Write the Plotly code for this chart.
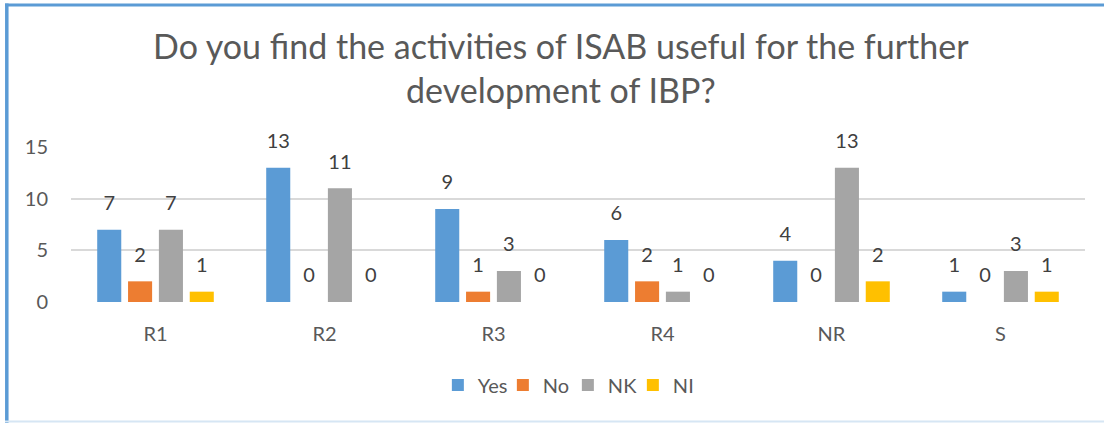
import plotly.graph_objects as go

categories = ["R1", "R2", "R3", "R4", "NR", "S"]
series_names = ["Yes", "No", "NK", "NI"]
yes_vals = [7, 13, 9, 6, 4, 1]
no_vals = [2, 0, 1, 2, 0, 0]
nk_vals = [7, 11, 3, 1, 13, 3]
ni_vals = [1, 0, 0, 0, 2, 1]
colors = ["#5B9BD5", "#ED7D31", "#A5A5A5", "#FFC000"]
y_ticks = [0, 5, 10, 15]

title_text = "Do you find the activities of ISAB useful for the further<br>development of IBP?"

FONT = "Lato"
all_vals = [yes_vals, no_vals, nk_vals, ni_vals]

fig = go.Figure()
for name, vals, col in zip(series_names, all_vals, colors):
    fig.add_trace(go.Bar(
        x=categories, y=vals, name=name, offsetgroup=name,
        marker=dict(color=col, line=dict(width=0)),
        hoverinfo="x+y+name",
    ))
for name, vals, col in zip(series_names, all_vals, colors):
    fig.add_trace(go.Scatter(
        x=categories, y=vals, offsetgroup=name, mode="markers+text",
        text=[str(v) for v in vals], textposition="top center",
        textfont=dict(family=FONT, size=20, color="#404040"),
        marker=dict(size=22, opacity=0, color=col),
        showlegend=False, hoverinfo="skip", cliponaxis=False,
    ))

fig.update_layout(
    width=1104, height=423,
    paper_bgcolor="white", plot_bgcolor="white",
    margin=dict(l=71, r=19, t=147, b=121),
    barmode="group", bargap=0.27, bargroupgap=0.22,
    scattermode="group", scattergap=0.27,
    font=dict(family=FONT, color="#595959", size=20),
    title=dict(
        text=title_text, x=0.508, xanchor="center", xref="container",
        y=1 - 59 / 423, yanchor="top", yref="container",
        font=dict(family=FONT, size=34, color="#595959"),
    ),
    xaxis=dict(
        type="category", showgrid=False, zeroline=False, showline=False,
        ticks="", ticklabelstandoff=18,
        tickfont=dict(family=FONT, size=20, color="#595959"),
    ),
    yaxis=dict(
        range=[0, 15], tickvals=y_ticks, showgrid=True, gridcolor="#D9D9D9",
        gridwidth=1.5, zeroline=False, showline=False, ticks="",
        ticklabelstandoff=22,
        tickfont=dict(family=FONT, size=20, color="#595959"),
    ),
    legend=dict(
        orientation="h", x=0.49, xanchor="center", y=-0.535, yanchor="middle",
        font=dict(family=FONT, size=20, color="#595959"),
        itemwidth=30, traceorder="normal",
        entrywidth=20, entrywidthmode="pixels",
    ),
    shapes=[
        dict(type="line", xref="paper", yref="paper",
             x0=(5 - 71) / 1014, x1=(1110 - 71) / 1014,
             y0=(302 - 5) / 155, y1=(302 - 5) / 155,
             line=dict(color="#5B9BD5", width=3)),
        dict(type="line", xref="paper", yref="paper",
             x0=(6.8 - 71) / 1014, x1=(6.8 - 71) / 1014,
             y0=(302 - 3.5) / 155, y1=(302 - 430) / 155,
             line=dict(color="#5B9BD5", width=3.5)),
        dict(type="line", xref="paper", yref="paper",
             x0=(5 - 71) / 1014, x1=(1110 - 71) / 1014,
             y0=(302 - 421.5) / 155, y1=(302 - 421.5) / 155,
             line=dict(color="#D6E6F4", width=2)),
    ],
)

fig.write_html("out.html", config={"displayModeBar": False},
               post_script="document.body.style.margin='0';")
